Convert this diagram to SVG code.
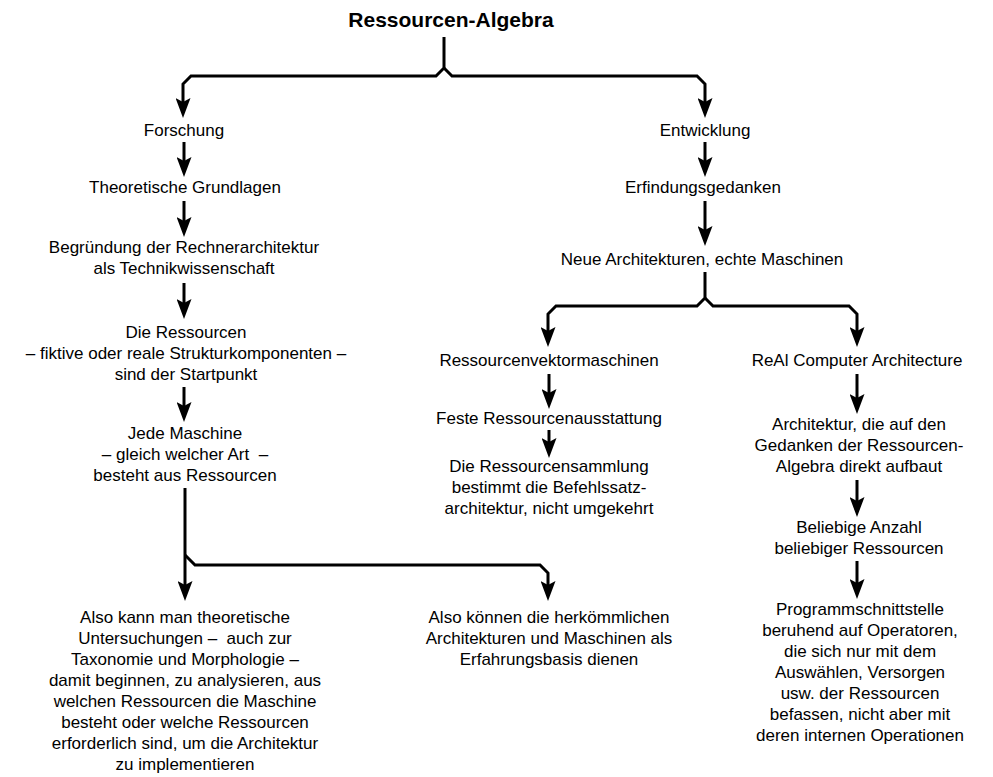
<svg xmlns="http://www.w3.org/2000/svg" width="993" height="777" viewBox="0 0 993 777">
<style>
text{font-family:"Liberation Sans",Arial,sans-serif;font-size:17px;fill:#000;text-anchor:middle;white-space:pre}
.title{font-size:21px;font-weight:bold}
.c{fill:none;stroke:#000;stroke-width:3;stroke-linejoin:miter}
</style>
<defs>
<marker id="ah" viewBox="0 0 20 15" refX="15" refY="7.5" markerWidth="20" markerHeight="15" markerUnits="userSpaceOnUse" orient="auto">
<path d="M0,0 L20,7.5 L0,15 L4,7.5 Z" fill="#000"/>
</marker>
</defs>
<rect width="993" height="777" fill="#fff"/>
<g id="connectors">
<path class="c" d="M444,37 V68 L436,76 H191 L183,84 V113" marker-end="url(#ah)"/>
<path class="c" d="M444,68 L452,76 H697 L705,84 V113" marker-end="url(#ah)"/>
<path class="c" d="M184,142 V172" marker-end="url(#ah)"/>
<path class="c" d="M184,201 V232" marker-end="url(#ah)"/>
<path class="c" d="M184,283 V314" marker-end="url(#ah)"/>
<path class="c" d="M184,387 V417" marker-end="url(#ah)"/>
<path class="c" d="M185,488 V596" marker-end="url(#ah)"/>
<path class="c" d="M185,555 L195,565 H540 L548,573 V596" marker-end="url(#ah)"/>
<path class="c" d="M705,142 V172" marker-end="url(#ah)"/>
<path class="c" d="M705,201 V241" marker-end="url(#ah)"/>
<path class="c" d="M705,272 V298 L697,306 H556 L548,314 V342" marker-end="url(#ah)"/>
<path class="c" d="M705,298 L713,306 H849 L857,314 V342" marker-end="url(#ah)"/>
<path class="c" d="M549,374 V404" marker-end="url(#ah)"/>
<path class="c" d="M549,430 V453" marker-end="url(#ah)"/>
<path class="c" d="M857,374 V409" marker-end="url(#ah)"/>
<path class="c" d="M857,480 V512" marker-end="url(#ah)"/>
<path class="c" d="M857,561 V594" marker-end="url(#ah)"/>
</g>
<g id="n-title"><text class="title" x="451" y="27">Ressourcen-Algebra</text></g>
<g id="n-forschung"><text x="184" y="136">Forschung</text></g>
<g id="n-theorie"><text x="185" y="193">Theoretische Grundlagen</text></g>
<g id="n-begruendung"><text x="184" y="253">Begründung der Rechnerarchitektur</text><text x="184" y="274">als Technikwissenschaft</text></g>
<g id="n-ressourcen"><text x="186" y="338">Die Ressourcen</text><text x="186" y="359">– fiktive oder reale Strukturkomponenten –</text><text x="186" y="380">sind der Startpunkt</text></g>
<g id="n-maschine"><text x="185" y="439">Jede Maschine</text><text x="185" y="460" xml:space="preserve">– gleich welcher Art  –</text><text x="185" y="481">besteht aus Ressourcen</text></g>
<g id="n-also1"><text x="185" y="623">Also kann man theoretische</text><text x="185" y="644" xml:space="preserve">Untersuchungen –  auch zur</text><text x="185" y="665">Taxonomie und Morphologie –</text><text x="185" y="686">damit beginnen, zu analysieren, aus</text><text x="185" y="707">welchen Ressourcen die Maschine</text><text x="185" y="728">besteht oder welche Ressourcen</text><text x="185" y="749">erforderlich sind, um die Architektur</text><text x="185" y="770">zu implementieren</text></g>
<g id="n-also2"><text x="549" y="623">Also können die herkömmlichen</text><text x="549" y="644">Architekturen und Maschinen als</text><text x="549" y="665">Erfahrungsbasis dienen</text></g>
<g id="n-entwicklung"><text x="705" y="136">Entwicklung</text></g>
<g id="n-erfindung"><text x="703" y="193">Erfindungsgedanken</text></g>
<g id="n-neue"><text x="702" y="265">Neue Architekturen, echte Maschinen</text></g>
<g id="n-rvm"><text x="549" y="366">Ressourcenvektormaschinen</text></g>
<g id="n-feste"><text x="549" y="424">Feste Ressourcenausstattung</text></g>
<g id="n-sammlung"><text x="549" y="472">Die Ressourcensammlung</text><text x="549" y="493">bestimmt die Befehlssatz-</text><text x="549" y="514">architektur, nicht umgekehrt</text></g>
<g id="n-real"><text x="857" y="366">ReAl Computer Architecture</text></g>
<g id="n-arch"><text x="859" y="430">Architektur, die auf den</text><text x="859" y="451">Gedanken der Ressourcen-</text><text x="859" y="472">Algebra direkt aufbaut</text></g>
<g id="n-beliebig"><text x="859" y="533">Beliebige Anzahl</text><text x="859" y="554">beliebiger Ressourcen</text></g>
<g id="n-prog"><text x="860" y="615">Programmschnittstelle</text><text x="860" y="636">beruhend auf Operatoren,</text><text x="860" y="657">die sich nur mit dem</text><text x="860" y="678">Auswählen, Versorgen</text><text x="860" y="699">usw. der Ressourcen</text><text x="860" y="720">befassen, nicht aber mit</text><text x="860" y="741">deren internen Operationen</text></g>
</svg>
